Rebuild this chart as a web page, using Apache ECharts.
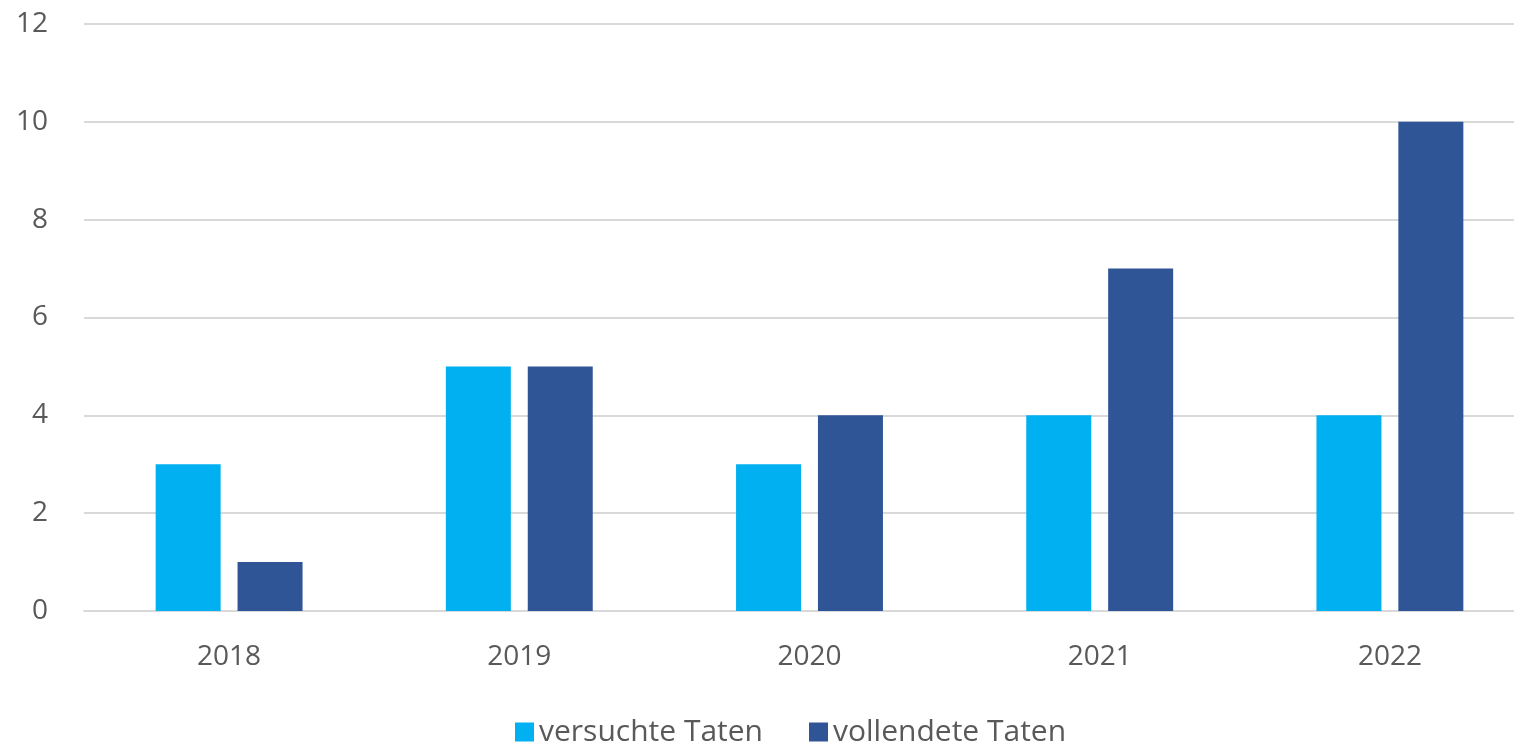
<!DOCTYPE html>
<html>
<head>
<meta charset="utf-8">
<script src="https://cdn.jsdelivr.net/npm/echarts@6/dist/echarts.min.js"></script>
<style>
  html, body { margin: 0; padding: 0; background: #fff; overflow: hidden; }
  #main { width: 1535px; height: 748px; }
</style>
</head>
<body>
<div id="main"></div>
<script>
// Jahre
var years = ['2018', '2019', '2020', '2021', '2022'];

// versuchte Taten
var versucht = [3, 5, 3, 4, 4];

// vollendete Taten
var vollendet = [1, 5, 4, 7, 10];

var textColor = '#595959';
var fontName = '"Open Sans", "Liberation Sans", sans-serif';

var myChart = echarts.init(document.getElementById('main'));

var option = {
    backgroundColor: '#fff',
    animation: false,
    textStyle: { fontFamily: fontName, color: textColor },
    legend: {
        bottom: -4,
        left: 510,
        itemWidth: 19,
        itemHeight: 19,
        itemGap: 46,
        icon: 'rect',
        textStyle: { fontSize: 30, color: textColor, fontFamily: fontName },
        data: ['versuchte Taten', 'vollendete Taten']
    },
    grid: {
        left: 84,
        right: 0,
        top: 24,
        bottom: 137,
        containLabel: false
    },
    xAxis: {
        type: 'category',
        data: years,
        axisLine: { show: true, lineStyle: { color: '#d9d9d9', width: 2 } },
        axisTick: { show: false },
        axisLabel: { fontSize: 28, color: textColor, margin: 32, fontFamily: fontName }
    },
    yAxis: {
        type: 'value',
        min: 0,
        max: 12,
        interval: 2,
        axisLine: { show: false },
        axisTick: { show: false },
        axisLabel: { fontSize: 28, color: textColor, margin: 36, fontFamily: fontName },
        splitLine: { lineStyle: { color: '#d9d9d9', width: 2 } }
    },
    series: [
        {
            name: 'versuchte Taten',
            type: 'bar',
            data: versucht,
            barWidth: 65,
            barGap: '26%',
            itemStyle: { color: '#00B0F0' }
        },
        {
            name: 'vollendete Taten',
            type: 'bar',
            data: vollendet,
            barWidth: 65,
            itemStyle: { color: '#2F5597' }
        }
    ]
};

myChart.setOption(option);
</script>
</body>
</html>
